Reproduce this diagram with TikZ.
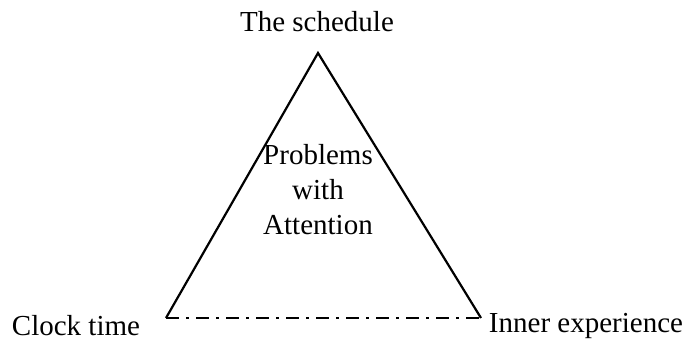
\documentclass[tikz,border=0pt]{standalone}
\usepackage{fontspec}
\setmainfont{Liberation Serif}
\usepackage{tikz}
\usetikzlibrary{positioning,calc}

\begin{document}
\begin{tikzpicture}[x=1pt, y=-1pt, line width=2.2pt]
\tikzstyle{every node}=[font=\fontsize{29}{35}\selectfont, text=black, inner sep=0pt]
\tikzstyle{dashdot}=[dash pattern=on 13pt off 7pt on 3pt off 7pt]
\useasboundingbox (0,0) rectangle (686,341);
\coordinate (top) at (318,53);
\coordinate (cl)  at (166,318);
\coordinate (ie)  at (481,318);
\node (sched)  at (317,22)  {The schedule};
\node (clock)  at (76,326)  {Clock time};
\node (inner)  at (586,326) {Inner experience};
\node[align=center] (prob) at (318,190) {Problems\\with\\Attention};
\draw (cl) -- (top) -- (ie);
\draw[dashdot] (cl) -- (ie);
\end{tikzpicture}
\end{document}
